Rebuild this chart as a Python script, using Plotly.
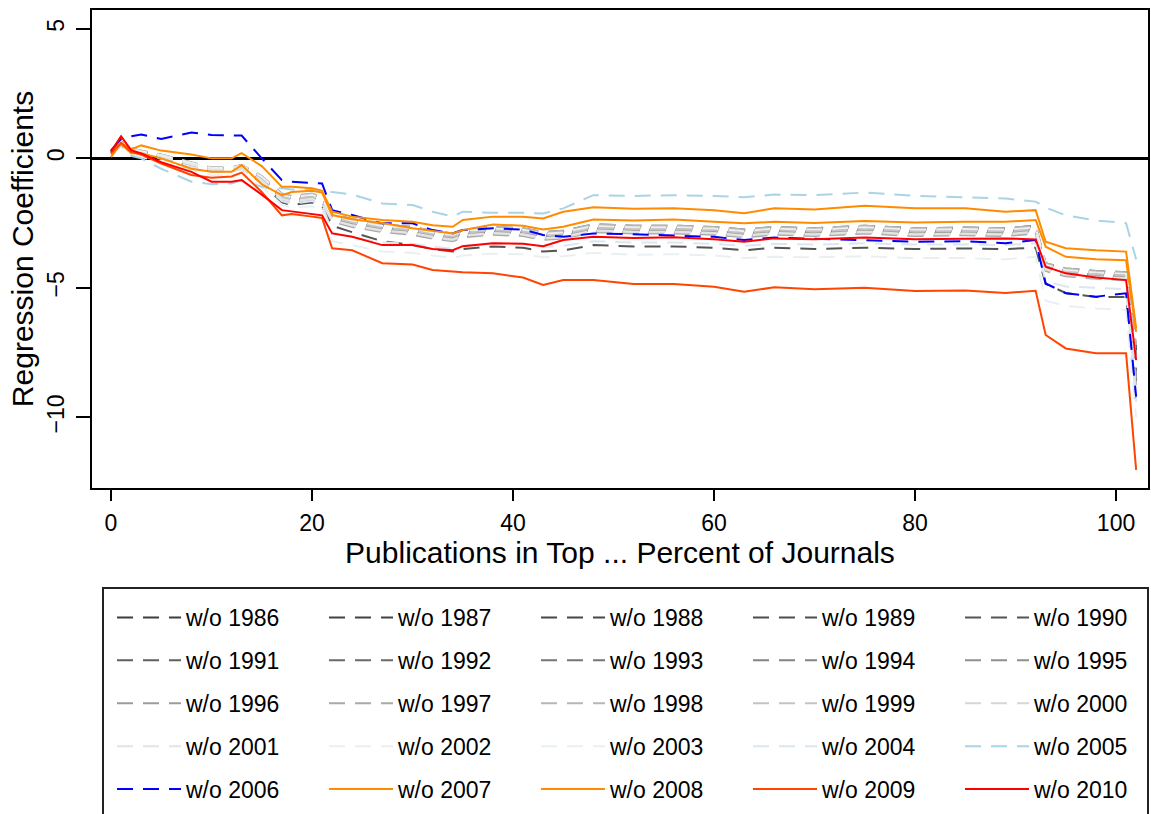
import plotly.graph_objects as go

# ---------------- data ----------------
x_pct = [0, 1, 2, 3, 5, 8, 10, 12, 13, 15, 17, 18, 20, 21, 22, 24, 27, 30, 32, 34, 35, 38, 41, 43, 45,
         48, 52, 56, 60, 63, 66, 70, 75, 80, 85, 89, 92, 93, 95, 98, 101, 102]

wo_1986 = [0.27, 0.62, 0.37, 0.27, 0.12, -0.18, -0.38, -0.38, -0.28, -0.75, -1.45, -1.55, -1.45, -1.6, -2.25, -2.45, -2.65, -2.75, -2.9, -3.0, -2.85, -2.75, -2.8, -2.95, -2.9, -2.65, -2.7, -2.7, -2.75, -2.85, -2.75, -2.8, -2.7, -2.8, -2.77, -2.8, -2.7, -4.15, -4.35, -4.45, -4.5, -7.6]
wo_1987 = [0.25, 0.60, 0.35, 0.25, 0.10, -0.20, -0.40, -0.40, -0.30, -0.80, -1.50, -1.60, -1.50, -1.65, -2.30, -2.50, -2.70, -2.80, -2.95, -3.05, -2.90, -2.80, -2.85, -3.00, -2.95, -2.70, -2.75, -2.75, -2.80, -2.90, -2.80, -2.85, -2.75, -2.85, -2.82, -2.85, -2.75, -4.20, -4.40, -4.50, -4.55, -8.2]
wo_1988 = [0.28, 0.63, 0.38, 0.28, 0.13, -0.17, -0.37, -0.37, -0.27, -0.7, -1.4, -1.5, -1.4, -1.55, -2.2, -2.4, -2.6, -2.7, -2.85, -2.95, -2.8, -2.7, -2.75, -2.9, -2.85, -2.6, -2.65, -2.65, -2.7, -2.8, -2.7, -2.75, -2.65, -2.75, -2.72, -2.75, -2.65, -4.1, -4.3, -4.4, -4.45, -7.4]
wo_1989 = [0.23, 0.58, 0.33, 0.23, 0.08, -0.22, -0.42, -0.42, -0.32, -0.85, -1.55, -1.65, -1.55, -1.7, -2.35, -2.55, -2.75, -2.85, -3.0, -3.1, -2.95, -2.85, -2.9, -3.05, -3.0, -2.75, -2.8, -2.8, -2.85, -2.95, -2.85, -2.9, -2.8, -2.9, -2.87, -2.9, -2.8, -4.25, -4.45, -4.55, -4.6, -8.6]
wo_1990 = [0.2, 0.55, 0.28, 0.15, 0.0, -0.3, -0.5, -0.5, -0.4, -0.95, -1.7, -1.8, -1.7, -1.85, -2.6, -2.85, -3.2, -3.35, -3.5, -3.6, -3.5, -3.4, -3.45, -3.6, -3.55, -3.35, -3.4, -3.4, -3.45, -3.55, -3.45, -3.5, -3.45, -3.5, -3.48, -3.5, -3.45, -4.85, -5.2, -5.35, -5.35, -9.6]
wo_1991 = [0.29, 0.64, 0.39, 0.29, 0.14, -0.16, -0.36, -0.36, -0.26, -0.7, -1.38, -1.47, -1.38, -1.52, -2.15, -2.35, -2.55, -2.65, -2.8, -2.9, -2.75, -2.65, -2.7, -2.85, -2.8, -2.55, -2.6, -2.6, -2.65, -2.75, -2.65, -2.7, -2.6, -2.7, -2.67, -2.7, -2.6, -4.05, -4.25, -4.35, -4.4, -7.3]
wo_1992 = [0.22, 0.57, 0.32, 0.22, 0.07, -0.23, -0.43, -0.43, -0.33, -0.88, -1.58, -1.68, -1.58, -1.73, -2.4, -2.6, -2.8, -2.9, -3.05, -3.15, -3.0, -2.9, -2.95, -3.1, -3.05, -2.8, -2.85, -2.85, -2.9, -3.0, -2.9, -2.95, -2.85, -2.95, -2.92, -2.95, -2.85, -4.3, -4.5, -4.6, -4.65, -8.8]
wo_1993 = [0.25, 0.6, 0.36, 0.26, 0.11, -0.19, -0.39, -0.39, -0.29, -0.78, -1.47, -1.57, -1.47, -1.62, -2.26, -2.46, -2.66, -2.76, -2.91, -3.01, -2.86, -2.76, -2.81, -2.96, -2.91, -2.66, -2.71, -2.71, -2.76, -2.86, -2.76, -2.81, -2.71, -2.81, -2.78, -2.81, -2.71, -4.16, -4.36, -4.46, -4.51, -7.9]
wo_1994 = [0.26, 0.61, 0.36, 0.26, 0.11, -0.19, -0.39, -0.39, -0.29, -0.8, -1.5, -1.6, -1.5, -1.65, -2.3, -2.5, -2.7, -2.8, -2.95, -3.05, -2.9, -2.8, -2.85, -3.0, -2.95, -2.7, -2.75, -2.75, -2.8, -2.9, -2.8, -2.85, -2.75, -2.85, -2.82, -2.85, -2.75, -4.2, -4.4, -4.5, -4.55, -8.4]
wo_1995 = [0.27, 0.62, 0.37, 0.27, 0.12, -0.18, -0.38, -0.38, -0.28, -0.72, -1.42, -1.52, -1.42, -1.57, -2.2, -2.4, -2.6, -2.7, -2.85, -2.95, -2.8, -2.7, -2.75, -2.9, -2.85, -2.6, -2.65, -2.65, -2.7, -2.8, -2.7, -2.75, -2.65, -2.75, -2.72, -2.75, -2.65, -4.1, -4.3, -4.4, -4.45, -7.7]
wo_1996 = [0.24, 0.59, 0.34, 0.24, 0.09, -0.21, -0.41, -0.41, -0.31, -0.83, -1.53, -1.63, -1.53, -1.68, -2.35, -2.55, -2.75, -2.85, -3.0, -3.1, -2.95, -2.85, -2.9, -3.05, -3.0, -2.75, -2.8, -2.8, -2.85, -2.95, -2.85, -2.9, -2.8, -2.9, -2.87, -2.9, -2.8, -4.25, -4.45, -4.55, -4.6, -8.5]
wo_1997 = [0.21, 0.56, 0.31, 0.21, 0.06, -0.24, -0.44, -0.44, -0.34, -0.9, -1.6, -1.7, -1.6, -1.75, -2.45, -2.65, -2.85, -2.95, -3.1, -3.2, -3.05, -2.95, -3.0, -3.15, -3.1, -2.85, -2.9, -2.9, -2.95, -3.05, -2.95, -3.0, -2.9, -3.0, -2.97, -3.0, -2.9, -4.35, -4.55, -4.65, -4.7, -9.0]
wo_1998 = [0.3, 0.65, 0.4, 0.3, 0.15, -0.15, -0.35, -0.35, -0.25, -0.68, -1.36, -1.45, -1.36, -1.5, -2.15, -2.35, -2.55, -2.65, -2.8, -2.9, -2.75, -2.65, -2.7, -2.85, -2.8, -2.55, -2.6, -2.6, -2.65, -2.75, -2.65, -2.7, -2.6, -2.7, -2.67, -2.7, -2.6, -4.05, -4.25, -4.35, -4.4, -7.2]
wo_1999 = [0.25, 0.6, 0.35, 0.25, 0.1, -0.2, -0.4, -0.4, -0.3, -0.79, -1.48, -1.58, -1.48, -1.63, -2.28, -2.48, -2.68, -2.78, -2.93, -3.03, -2.88, -2.78, -2.83, -2.98, -2.93, -2.68, -2.73, -2.73, -2.78, -2.88, -2.78, -2.83, -2.73, -2.83, -2.8, -2.83, -2.73, -4.18, -4.38, -4.48, -4.53, -8.1]
wo_2000 = [0.23, 0.57, 0.32, 0.22, 0.07, -0.23, -0.43, -0.43, -0.33, -0.87, -1.57, -1.67, -1.57, -1.72, -2.4, -2.6, -2.8, -2.9, -3.05, -3.15, -3.0, -2.9, -2.95, -3.1, -3.05, -2.8, -2.85, -2.85, -2.9, -3.0, -2.9, -2.95, -2.85, -2.95, -2.92, -2.95, -2.85, -4.3, -4.5, -4.6, -4.65, -8.9]
wo_2001 = [0.22, 0.56, 0.31, 0.21, 0.06, -0.24, -0.44, -0.44, -0.34, -0.86, -1.56, -1.66, -1.56, -1.71, -2.38, -2.58, -2.78, -2.88, -3.03, -3.13, -2.98, -2.88, -2.93, -3.08, -3.03, -2.78, -2.83, -2.83, -2.88, -2.98, -2.88, -2.93, -2.83, -2.93, -2.9, -2.93, -2.83, -4.28, -4.48, -4.58, -4.63, -9.2]
wo_2002 = [0.28, 0.63, 0.38, 0.28, 0.13, -0.17, -0.37, -0.37, -0.27, -0.71, -1.41, -1.51, -1.41, -1.56, -2.21, -2.41, -2.61, -2.71, -2.86, -2.96, -2.81, -2.71, -2.76, -2.91, -2.86, -2.61, -2.66, -2.66, -2.71, -2.81, -2.71, -2.76, -2.66, -2.76, -2.73, -2.76, -2.66, -4.11, -4.31, -4.41, -4.46, -7.8]
wo_2003 = [0.15, 0.45, 0.15, 0.05, -0.15, -0.45, -0.65, -0.65, -0.55, -1.1, -1.8, -1.9, -1.85, -2.0, -3.2, -3.35, -3.6, -3.65, -3.75, -3.85, -3.75, -3.68, -3.7, -3.82, -3.78, -3.65, -3.72, -3.7, -3.75, -3.85, -3.8, -3.82, -3.78, -3.85, -3.85, -3.9, -3.8, -5.5, -5.7, -5.8, -5.85, -10.0]
wo_2004 = [0.18, 0.5, 0.25, 0.15, -0.02, -0.32, -0.52, -0.52, -0.42, -0.95, -1.65, -1.75, -1.65, -1.8, -2.85, -3.05, -3.25, -3.3, -3.4, -3.5, -3.38, -3.28, -3.3, -3.42, -3.38, -3.2, -3.25, -3.25, -3.3, -3.38, -3.3, -3.33, -3.28, -3.33, -3.32, -3.35, -3.28, -4.75, -4.95, -5.0, -5.05, -9.4]
wo_2005 = [0.2, 0.5, 0.1, 0.0, -0.4, -0.9, -1.0, -0.97, -0.85, -1.1, -1.15, -1.2, -1.2, -1.22, -1.3, -1.4, -1.74, -1.8, -2.06, -2.25, -2.06, -2.1, -2.1, -2.13, -1.93, -1.42, -1.45, -1.42, -1.45, -1.5, -1.4, -1.42, -1.32, -1.45, -1.5, -1.55, -1.67, -1.9, -2.2, -2.4, -2.5, -3.9]
wo_2006 = [0.3, 0.75, 0.85, 0.92, 0.75, 1.0, 0.9, 0.9, 0.88, 0.0, -0.84, -0.9, -0.95, -0.97, -2.0, -2.19, -2.51, -2.51, -2.77, -2.9, -2.77, -2.7, -2.75, -2.96, -3.03, -2.9, -2.93, -2.98, -3.03, -3.15, -3.06, -3.1, -3.15, -3.22, -3.2, -3.28, -3.15, -4.83, -5.21, -5.34, -5.21, -9.2]
wo_2007 = [0.05, 0.6, 0.35, 0.5, 0.3, 0.15, 0.0, 0.0, 0.2, -0.3, -1.1, -1.1, -1.15, -1.25, -2.06, -2.25, -2.38, -2.45, -2.58, -2.64, -2.38, -2.25, -2.25, -2.32, -2.06, -1.89, -1.95, -1.93, -2.0, -2.12, -1.93, -1.97, -1.83, -1.93, -1.93, -2.06, -2.0, -3.22, -3.47, -3.55, -3.6, -6.56]
wo_2008 = [0.15, 0.55, 0.2, 0.2, 0.0, -0.4, -0.52, -0.52, -0.26, -1.0, -1.42, -1.3, -1.25, -1.32, -2.19, -2.35, -2.5, -2.7, -2.8, -2.9, -2.77, -2.55, -2.6, -2.75, -2.64, -2.36, -2.4, -2.36, -2.45, -2.51, -2.45, -2.5, -2.42, -2.48, -2.45, -2.45, -2.38, -3.41, -3.8, -3.9, -3.93, -6.7]
wo_2009 = [0.2, 0.6, 0.25, 0.15, -0.2, -0.64, -0.75, -0.7, -0.55, -1.3, -2.2, -2.15, -2.25, -2.3, -3.47, -3.55, -4.05, -4.1, -4.31, -4.38, -4.4, -4.44, -4.6, -4.89, -4.7, -4.7, -4.85, -4.85, -4.96, -5.15, -4.98, -5.05, -5.0, -5.12, -5.1, -5.2, -5.11, -6.82, -7.34, -7.53, -7.53, -12.03]
wo_2010 = [0.26, 0.85, 0.32, 0.19, -0.15, -0.52, -0.9, -0.9, -0.84, -1.4, -2.0, -2.05, -2.15, -2.2, -2.9, -3.03, -3.35, -3.35, -3.5, -3.55, -3.39, -3.28, -3.3, -3.39, -3.15, -3.03, -3.08, -3.05, -3.12, -3.22, -3.09, -3.12, -3.06, -3.12, -3.1, -3.09, -3.13, -4.18, -4.44, -4.6, -4.7, -7.79]

years = list(range(1986, 2011))
series_values = [wo_1986, wo_1987, wo_1988, wo_1989, wo_1990, wo_1991, wo_1992, wo_1993, wo_1994,
                 wo_1995, wo_1996, wo_1997, wo_1998, wo_1999, wo_2000, wo_2001, wo_2002, wo_2003,
                 wo_2004, wo_2005, wo_2006, wo_2007, wo_2008, wo_2009, wo_2010]

x_ticks = [0, 20, 40, 60, 80, 100]
y_ticks = [-10, -5, 0, 5]
y_tick_text = ["\u221210", "\u22125", "0", "5"]

# ---------------- styles ----------------
line_colors = ["#3d3d3d", "#424242", "#474747", "#4d4d4d", "#555555", "#5f5f5f", "#6a6a6a", "#767676",
               "#838383", "#8f8f8f", "#9c9c9c", "#a9a9a9", "#b6b6b6", "#c3c3c3", "#d6d6d6", "#e4e4e4",
               "#eeeeee", "#e9f0f4", "#dbe7ef", "#a9d4e5", "#0000ff", "#ff8c00", "#ff8c00", "#ff4500",
               "#ff0000"]
DASH = "16px,10px"
FONT = "Liberation Sans, Arial, Helvetica, sans-serif"

# plot area geometry (pixels)
W, H = 1151, 814
L, R, T, B = 92, 3, 10, 326
plot_w = W - L - R
plot_h = H - T - B

def px_to_paper_x(px):
    return (px - L) / plot_w

def px_to_paper_y(py):
    return (H - B - py) / plot_h

fig = go.Figure()
col_x_px = [112, 324, 536, 748, 960]
legend_ids = ["legend", "legend2", "legend3", "legend4", "legend5"]

for i, (yr, vals) in enumerate(zip(years, series_values)):
    dash = "solid" if yr >= 2007 else DASH
    fig.add_trace(go.Scatter(
        x=x_pct, y=vals, mode="lines", name=f"w/o {yr}",
        line=dict(color=line_colors[i], width=2, dash=dash),
        legend=legend_ids[i % 5], legendgroup=f"g{yr}",
        hoverinfo="skip",
    ))

legend_top = px_to_paper_y(596)
layout_legends = {}
for k, lid in enumerate(legend_ids):
    layout_legends[lid] = dict(
        x=px_to_paper_x(col_x_px[k]), y=legend_top, xanchor="left", yanchor="top",
        xref="paper", yref="paper",
        bgcolor="rgba(0,0,0,0)", borderwidth=0,
        font=dict(family=FONT, size=23, color="#000"),
        tracegroupgap=10, itemwidth=64, traceorder="grouped",
    )

fig.update_layout(
    width=W, height=H,
    margin=dict(l=L, r=R, t=T, b=B, autoexpand=False),
    paper_bgcolor="white", plot_bgcolor="white",
    font=dict(family=FONT, size=23, color="#000"),
    showlegend=True,
    **layout_legends,
    shapes=[dict(type="rect", xref="paper", yref="paper",
                 x0=px_to_paper_x(103), x1=px_to_paper_x(1148),
                 y0=px_to_paper_y(588), y1=px_to_paper_y(840),
                 line=dict(color="#222", width=2), fillcolor="rgba(0,0,0,0)", layer="above")],
)

fig.update_xaxes(
    range=[-1.89, 103.18], tickvals=x_ticks, ticktext=[str(v) for v in x_ticks],
    showgrid=False, zeroline=False,
    showline=True, linecolor="#000", linewidth=2, mirror=True,
    ticks="outside", ticklen=11, tickwidth=1.5, tickcolor="#000",
    ticklabelstandoff=2,
    tickfont=dict(family=FONT, size=23),
    title=dict(text="Publications in Top ... Percent of Journals", font=dict(family=FONT, size=30), standoff=1),
)
fig.update_yaxes(
    range=[-12.73, 5.73], tickvals=y_ticks, ticktext=y_tick_text, tickangle=-90,
    showgrid=False, zeroline=True, zerolinecolor="#000", zerolinewidth=2.5,
    showline=True, linecolor="#000", linewidth=2, mirror=True,
    ticks="outside", ticklen=14, tickwidth=1.5, tickcolor="#000",
    ticklabelstandoff=3,
    tickfont=dict(family=FONT, size=23),
    title=dict(text="Regression Coefficients", font=dict(family=FONT, size=30), standoff=0),
)

fig.write_html("out.html", config={"displayModeBar": False},
               post_script="document.body.style.margin='0';document.body.style.overflow='hidden';")
